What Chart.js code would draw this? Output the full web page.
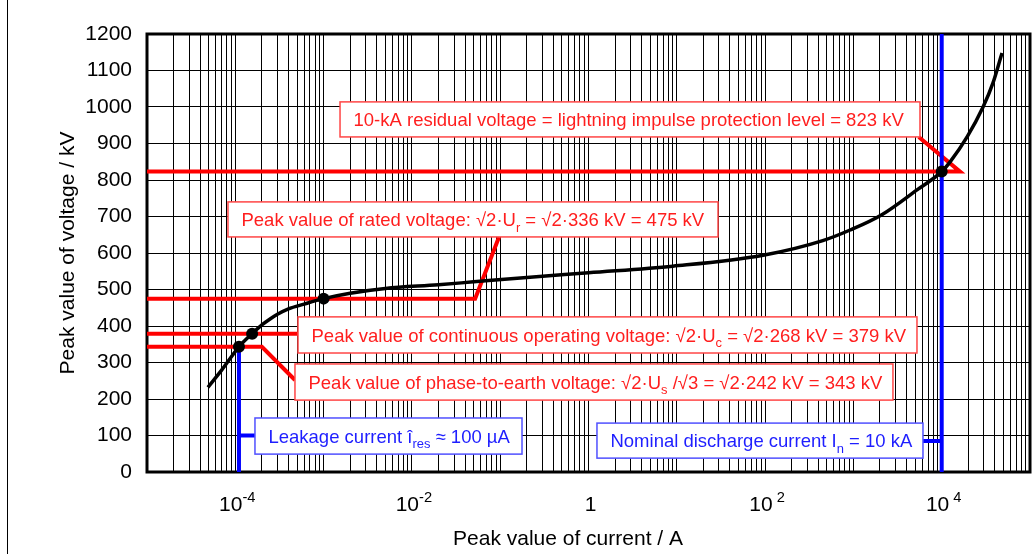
<!DOCTYPE html>
<html>
<head>
<meta charset="utf-8">
<script src="https://cdn.jsdelivr.net/npm/chart.js@4.4.1/dist/chart.umd.min.js"></script>
<style>
  html, body { margin: 0; padding: 0; background: #fff; }
  canvas { display: block; }
</style>
</head>
<body>
<canvas id="chart" width="1036" height="554"></canvas>
<script>
const FONT = "'Liberation Sans', Arial, Helvetica, sans-serif";

// U-I characteristic: peak current (A) vs peak voltage (kV)
const curveCurrent = [4.9e-5, 7e-5, 1.1e-4, 1.55e-4, 2e-4, 2.5e-4, 3e-4, 4e-4, 6e-4, 1e-3, 2e-3, 5e-3, 0.02, 0.05, 0.2, 1,
  9, 95, 450, 918, 2100, 5250, 1e4, 1.24e4, 1.94e4, 2.94e4, 3.81e4, 4.82e4];
const curveVoltage = [232, 279, 343, 379, 403, 420, 432, 447, 460, 475, 490, 503, 513, 521, 533, 546,
  564, 594, 634, 663, 705, 773, 823, 849, 918, 1000, 1066, 1148];

// marked operating points
const markCurrent = [1.1e-4, 1.55e-4, 1e-3, 1e4];
const markVoltage = [343, 379, 475, 823];

// leader lines (current, voltage)
const redLines = [
  [[1e-5, 823], [1.61e4, 823], [5.5e3, 918]],
  [[1e-5, 475], [0.052, 475], [0.097, 644]],
  [[1e-5, 379], [5.13e-4, 379]],
  [[1e-5, 343], [2e-4, 343], [4.74e-4, 252]]
];
const blueLines = [
  [[1.1e-4, 343], [1.1e-4, 0]],
  [[1.1e-4, 100], [1.67e-4, 100]],
  [[1e4, 0], [1e4, 1200]],
  [[6137, 85], [1e4, 85]]
];

// x tick labels
const xTickValues = [1e-4, 1e-2, 1, 1e2, 1e4];
const xTickBase = ['10', '10', '1', '10', '10'];
const xTickExp = ['-4', '-2', '', ' 2', ' 4'];

// annotation texts: [text, 'sub'?]
const labelText = [
  [['10-kA residual voltage = lightning impulse protection level = 823 kV']],
  [['Peak value of rated voltage: √2·U'], ['r', 'sub'], [' = √2·336 kV = 475 kV']],
  [['Peak value of continuous operating voltage: √2·U'], ['c', 'sub'], [' = √2·268 kV = 379 kV']],
  [['Peak value of phase-to-earth voltage: √2·U'], ['s', 'sub'], [' /√3 = √2·242 kV = 343 kV']],
  [['Leakage current î'], ['res', 'sub'], [' ≈ 100 µA']],
  [['Nominal discharge current I'], ['n', 'sub'], [' = 10 kA']]
];
// boxes in axis units: [xLeft, xRight, yTop, yBottom]
const labelBox = [
  [1.535e-3, 5675, 1014, 918],
  [8.26e-5, 29.3, 740, 644],
  [5.13e-4, 5248, 425, 326],
  [4.74e-4, 2805, 296, 197],
  [1.67e-4, 0.1766, 148, 49],
  [1.247, 6137, 134, 38]
];
const labelKind = ['red', 'red', 'red', 'red', 'blue', 'blue'];

const RED = '#ff0000', BLUE = '#0000ff';
const styles = {
  red:  { text: 'rgb(255,30,30)', border: 'rgb(255,70,70)' },
  blue: { text: 'rgb(30,30,255)', border: 'rgb(80,80,255)' }
};

// log grid: 1..9 x 10^k
const gridValues = [];
for (let e = -5; e < 5; e++) {
  for (let k = 1; k <= 9; k++) gridValues.push(k * Math.pow(10, e));
}
gridValues.push(1e5);

const toPts = arr => arr.map(p => ({ x: p[0], y: p[1] }));

const datasets = [
  {
    data: markCurrent.map((c, i) => ({ x: c, y: markVoltage[i] })),
    pointRadius: 6, pointBackgroundColor: '#000', pointBorderWidth: 0, showLine: false
  },
  {
    data: curveCurrent.map((c, i) => ({ x: c, y: curveVoltage[i] })),
    showLine: true, borderColor: '#000', borderWidth: 3.5, pointRadius: 0,
    cubicInterpolationMode: 'monotone'
  }
];
blueLines.forEach(l => datasets.push({
  data: toPts(l), showLine: true, borderColor: BLUE, borderWidth: 4, pointRadius: 0, tension: 0
}));
redLines.forEach(l => datasets.push({
  data: toPts(l), showLine: true, borderColor: RED, borderWidth: 4, pointRadius: 0, tension: 0
}));

function richWidth(ctx, parts, size) {
  let w = 0;
  for (const [txt, kind] of parts) {
    ctx.font = (kind ? size * 0.7 : size) + 'px ' + FONT;
    w += ctx.measureText(txt).width;
  }
  return w;
}
function drawRich(ctx, parts, x, y, size) {
  let cx = x;
  for (const [txt, kind] of parts) {
    const s = kind ? size * 0.7 : size;
    ctx.font = s + 'px ' + FONT;
    const dy = kind === 'sub' ? size * 0.3 : kind === 'sup' ? -size * 0.42 : 0;
    ctx.fillText(txt, cx, y + dy);
    cx += ctx.measureText(txt).width;
  }
}

const decor = {
  id: 'decor',
  beforeDatasetsDraw(chart) {
    const { ctx, chartArea: a } = chart;
    ctx.save();
    ctx.strokeStyle = '#000';
    ctx.lineWidth = 3;
    ctx.strokeRect(a.left, a.top, a.right - a.left, a.bottom - a.top);
    ctx.restore();
  },
  afterDatasetsDraw(chart) {
    const { ctx } = chart;
    const xs = chart.scales.x, ys = chart.scales.y;
    ctx.save();
    ctx.textBaseline = 'alphabetic';
    ctx.textAlign = 'left';
    labelBox.forEach((b, i) => {
      const st = styles[labelKind[i]];
      const x0 = xs.getPixelForValue(b[0]), x1 = xs.getPixelForValue(b[1]);
      const y0 = ys.getPixelForValue(b[2]), y1 = ys.getPixelForValue(b[3]);
      ctx.fillStyle = '#fff';
      ctx.fillRect(x0, y0, x1 - x0, y1 - y0);
      ctx.strokeStyle = st.border;
      ctx.lineWidth = 1.5;
      ctx.strokeRect(x0, y0, x1 - x0, y1 - y0);
      ctx.fillStyle = st.text;
      drawRich(ctx, labelText[i], x0 + 13.5, (y0 + y1) / 2 + 18.5 * 0.36, 18.5);
    });
    ctx.restore();
  },
  afterDraw(chart) {
    const { ctx } = chart;
    const xs = chart.scales.x;
    ctx.save();
    // page border line on the left
    ctx.strokeStyle = '#000';
    ctx.lineWidth = 1;
    ctx.beginPath();
    ctx.moveTo(7.5, 0);
    ctx.lineTo(7.5, 554);
    ctx.stroke();

    ctx.fillStyle = '#000';
    ctx.textBaseline = 'alphabetic';
    ctx.textAlign = 'left';
    xTickValues.forEach((v, i) => {
      const parts = [[xTickBase[i]]];
      if (xTickExp[i]) parts.push([xTickExp[i], 'sup']);
      const w = richWidth(ctx, parts, 21);
      drawRich(ctx, parts, xs.getPixelForValue(v) - w / 2 + 2, 511, 21);
    });
    ctx.font = '21px ' + FONT;
    ctx.textAlign = 'center';
    ctx.fillText('Peak value of current / A', 568, 545);
    ctx.restore();
  }
};

new Chart(document.getElementById('chart'), {
  type: 'scatter',
  data: { datasets },
  plugins: [decor],
  options: {
    responsive: false,
    animation: false,
    layout: { padding: { top: 34, right: 6, left: 0, bottom: 0 } },
    plugins: { legend: { display: false }, tooltip: { enabled: false } },
    scales: {
      x: {
        type: 'logarithmic',
        min: 1e-5,
        max: 1e5,
        afterBuildTicks: s => { s.ticks = gridValues.map(v => ({ value: v })); },
        afterFit: s => { s.height = 82; },
        ticks: { display: false },
        grid: { color: '#000', lineWidth: 1, drawTicks: false },
        border: { display: false }
      },
      y: {
        min: 0,
        max: 1200,
        afterFit: s => { s.width = 147; },
        ticks: {
          stepSize: 100, padding: 15, color: '#000',
          font: { family: FONT, size: 21 },
          callback: v => String(v)
        },
        grid: { color: '#000', lineWidth: 1, drawTicks: false },
        border: { display: false },
        title: {
          display: true,
          text: 'Peak value of voltage / kV',
          color: '#000',
          font: { family: FONT, size: 21 },
          padding: { top: 56, bottom: 0 }
        }
      }
    }
  }
});
</script>
</body>
</html>
